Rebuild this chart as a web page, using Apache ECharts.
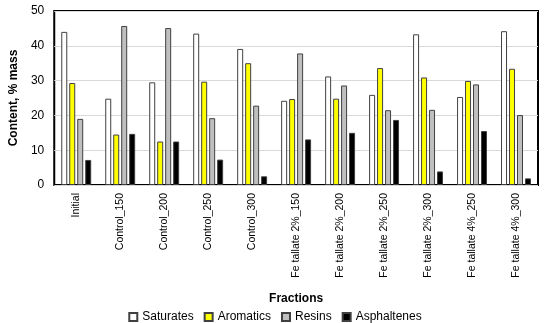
<!DOCTYPE html>
<html><head><meta charset="utf-8">
<script src="https://cdn.jsdelivr.net/npm/echarts@6/dist/echarts.min.js"></script>
<style>html,body{margin:0;padding:0;background:#fff}#c{width:550px;height:323px}</style>
</head><body><div id="c"></div>
<script>
var categories = ["Initial","Control_150","Control_200","Control_250","Control_300","Fe tallate 2%_150","Fe tallate 2%_200","Fe tallate 2%_250","Fe tallate 2%_300","Fe tallate 4%_250","Fe tallate 4%_300"];
var saturates   = [44.0, 24.8, 29.5, 43.5, 39.1, 24.2, 31.2, 25.9, 43.3, 25.3, 44.2];
var aromatics   = [29.3, 14.5, 12.5, 29.7, 35.0, 24.7, 24.8, 33.6, 30.9, 29.9, 33.4];
var resins      = [19.0, 45.7, 45.1, 19.2, 22.8, 37.8, 28.6, 21.5, 21.6, 28.9, 20.1];
var asphaltenes = [7.2, 14.7, 12.5, 7.3, 2.5, 13.1, 15.0, 18.7, 3.9, 15.5, 1.9];
var yTicks = [0, 10, 20, 30, 40, 50];

var font = "Liberation Sans";
function s(name, data, color) {
  return {name: name, type: 'bar', data: data, barWidth: 6, barGap: '33%',
    itemStyle: {color: color, borderColor: '#404040', borderWidth: 1}};
}
var chart = echarts.init(document.getElementById('c'));
chart.setOption({
  animation: false,
  textStyle: {fontFamily: font},
  grid: {left: 49, right: 12, top: 11, bottom: 138, show: true, borderColor: '#000', borderWidth: 2, containLabel: false},
  legend: {top: 306, left: 'center', icon: 'rect', itemWidth: 8, itemHeight: 8, itemGap: 10,
    textStyle: {fontFamily: font, fontSize: 12, color: '#000'},
    data: ['Saturates','Aromatics','Resins','Asphaltenes']},
  xAxis: {type: 'category', data: categories,
    name: 'Fractions', nameLocation: 'middle', nameGap: 108,
    nameTextStyle: {fontFamily: font, fontWeight: 'bold', fontSize: 12, color: '#000'},
    axisLine: {show: false}, axisTick: {show: false},
    axisLabel: {rotate: 90, interval: 0, fontSize: 10.5, color: '#000', margin: 8, fontFamily: font}},
  yAxis: {type: 'value', min: yTicks[0], max: yTicks[yTicks.length-1], interval: 10,
    name: 'Content, % mass', nameLocation: 'middle', nameGap: 30,
    nameTextStyle: {fontFamily: font, fontWeight: 'bold', fontSize: 12, color: '#000'},
    axisLine: {show: false}, axisTick: {show: false},
    axisLabel: {fontSize: 12, color: '#000', margin: 10, fontFamily: font},
    splitLine: {lineStyle: {color: '#d9d9d9', width: 1}}},
  series: [s('Saturates', saturates, '#ffffff'), s('Aromatics', aromatics, '#ffff00'),
           s('Resins', resins, '#bfbfbf'), s('Asphaltenes', asphaltenes, '#000000')]
});
</script></body></html>
